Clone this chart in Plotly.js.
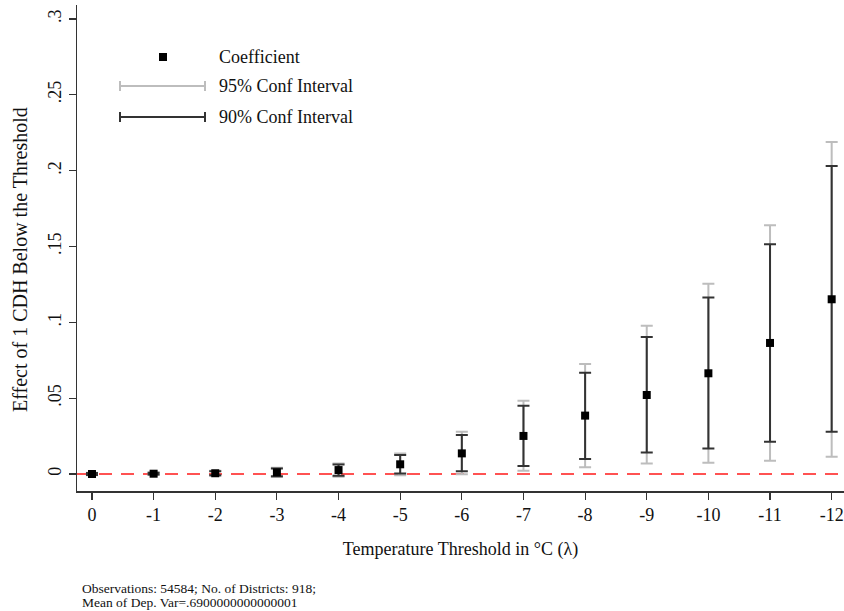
<!DOCTYPE html>
<html>
<head>
<meta charset="utf-8">
<script src="https://cdn.plot.ly/plotly-3.0.1.min.js"></script>
<style>html,body{margin:0;padding:0;background:#fff;}#chart{width:844px;height:611px;}</style>
</head>
<body>
<div id="chart"></div>
<script>
// Data
const thresholds = [0, -1, -2, -3, -4, -5, -6, -7, -8, -9, -10, -11, -12];
const coef   = [0.0000, 0.0002, 0.0005, 0.0011, 0.0026, 0.0064, 0.0136, 0.0251, 0.0385, 0.0521, 0.0664, 0.0864, 0.1152];
const ci95Lo = [-0.0008, -0.0006, -0.0012, -0.0020, -0.0018, -0.0008, -0.0002, 0.0022, 0.0045, 0.0070, 0.0075, 0.0088, 0.0114];
const ci95Hi = [0.0008, 0.0010, 0.0022, 0.0042, 0.0070, 0.0136, 0.0279, 0.0483, 0.0725, 0.0978, 0.1255, 0.1640, 0.2189];
const ci90Lo = [-0.0006, -0.0004, -0.0008, -0.0015, -0.0011, 0.0003, 0.0018, 0.0053, 0.0099, 0.0141, 0.0169, 0.0213, 0.0279];
const ci90Hi = [0.0006, 0.0008, 0.0018, 0.0037, 0.0063, 0.0125, 0.0257, 0.0450, 0.0667, 0.0903, 0.1163, 0.1514, 0.2031];
const yTickVals = [0, 0.05, 0.1, 0.15, 0.2, 0.25, 0.3];
const yTickText = ['0', '.05', '.1', '.15', '.2', '.25', '.3'];
const xTickText = ['0', '-1', '-2', '-3', '-4', '-5', '-6', '-7', '-8', '-9', '-10', '-11', '-12'];
const legendLabels = ['Coefficient', '95% Conf Interval', '90% Conf Interval'];
const yTitle = 'Effect of 1 CDH Below the Threshold';
const xTitle = 'Temperature Threshold in °C (λ)';
const footnoteLines = ['Observations: 54584; No. of Districts: 918;', 'Mean of Dep. Var=.6900000000000001'];

const FONT = 'Liberation Serif, Times New Roman, serif';
const W = 844, H = 611, ML = 77, MR = 0, MT = 5, MB = 120;
const PW = W - ML - MR, PH = H - MT - MB;
const px = x => (x - ML) / PW;
const py = y => (H - MB - y) / PH;

const diff = (a, b) => a.map((v, i) => v - b[i]);

const traces = [
  {
    x: thresholds, y: coef, type: 'scatter', mode: 'markers',
    marker: {size: 0.1, color: 'rgba(0,0,0,0)'},
    error_y: {type: 'data', symmetric: false, array: diff(ci95Hi, coef), arrayminus: diff(coef, ci95Lo),
              color: '#bdbdbd', thickness: 2, width: 6},
    hoverinfo: 'skip', showlegend: false
  },
  {
    x: thresholds, y: coef, type: 'scatter', mode: 'markers',
    marker: {size: 0.1, color: 'rgba(0,0,0,0)'},
    error_y: {type: 'data', symmetric: false, array: diff(ci90Hi, coef), arrayminus: diff(coef, ci90Lo),
              color: '#333333', thickness: 2, width: 6},
    hoverinfo: 'skip', showlegend: false
  },
  {
    x: thresholds, y: coef, type: 'scatter', mode: 'markers',
    marker: {symbol: 'square', size: 8, color: '#000'},
    showlegend: false
  }
];

const shapes = [
  {type: 'line', xref: 'paper', x0: 0, x1: 1, yref: 'y', y0: 0, y1: 0,
   line: {color: '#ff1a1a', width: 1.5, dash: '13px,9px'}, layer: 'below'},
  // legend: 95% CI
  {type: 'line', xref: 'paper', yref: 'paper', x0: px(120), x1: px(205), y0: py(86), y1: py(86), line: {color: '#bdbdbd', width: 2}},
  {type: 'line', xref: 'paper', yref: 'paper', x0: px(120), x1: px(120), y0: py(81), y1: py(91), line: {color: '#bdbdbd', width: 2}},
  {type: 'line', xref: 'paper', yref: 'paper', x0: px(205), x1: px(205), y0: py(81), y1: py(91), line: {color: '#bdbdbd', width: 2}},
  // legend: 90% CI
  {type: 'line', xref: 'paper', yref: 'paper', x0: px(120), x1: px(205), y0: py(117), y1: py(117), line: {color: '#333', width: 2}},
  {type: 'line', xref: 'paper', yref: 'paper', x0: px(120), x1: px(120), y0: py(112), y1: py(122), line: {color: '#333', width: 2}},
  {type: 'line', xref: 'paper', yref: 'paper', x0: px(205), x1: px(205), y0: py(112), y1: py(122), line: {color: '#333', width: 2}},
  // legend: coefficient marker
  {type: 'rect', xref: 'paper', yref: 'paper', x0: px(159), x1: px(167), y0: py(53), y1: py(61), fillcolor: '#000', line: {width: 0}}
];

const legendY = [57, 86, 117];
const annotations = legendLabels.map((t, i) => ({
  text: t, xref: 'paper', yref: 'paper', x: px(217), y: py(legendY[i]),
  xanchor: 'left', yanchor: 'middle', showarrow: false,
  font: {family: FONT, size: 18, color: '#111'}
}));
annotations.push({
  text: yTitle, xref: 'paper', yref: 'paper', x: px(20), y: py(260),
  xanchor: 'center', yanchor: 'middle', textangle: -90, showarrow: false,
  font: {family: FONT, size: 20, color: '#111'}
});
const footY = [588, 602];
footnoteLines.forEach((t, i) => annotations.push({
  text: t, xref: 'paper', yref: 'paper', x: px(80), y: py(footY[i]),
  xanchor: 'left', yanchor: 'middle', align: 'left', showarrow: false,
  font: {family: FONT, size: 13.5, color: '#111'}
}));

const layout = {
  width: W, height: H,
  margin: {l: ML, r: MR, t: MT, b: MB},
  paper_bgcolor: '#fff', plot_bgcolor: '#fff',
  font: {family: FONT, color: '#111'},
  showlegend: false,
  xaxis: {
    range: [0.243, -12.2],
    tickvals: thresholds, ticktext: xTickText,
    ticks: 'outside', ticklen: 7, tickwidth: 1.2, tickcolor: '#333',
    showline: true, linecolor: '#333', linewidth: 1.5,
    showgrid: false, zeroline: false,
    tickfont: {family: FONT, size: 18, color: '#111'},
    title: {text: xTitle, font: {family: FONT, size: 18, color: '#111'}, standoff: 18}
  },
  yaxis: {
    range: [-0.0112, 0.3092],
    tickvals: yTickVals, ticktext: yTickText, tickangle: -90,
    ticks: 'outside', ticklen: 7, tickwidth: 1.2, tickcolor: '#333',
    showline: true, linecolor: '#333', linewidth: 1.5,
    showgrid: false, zeroline: false,
    tickfont: {family: FONT, size: 18, color: '#111'}
  },
  shapes: shapes,
  annotations: annotations
};

Plotly.newPlot('chart', traces, layout, {displayModeBar: false, staticPlot: true});
</script>
</body>
</html>
